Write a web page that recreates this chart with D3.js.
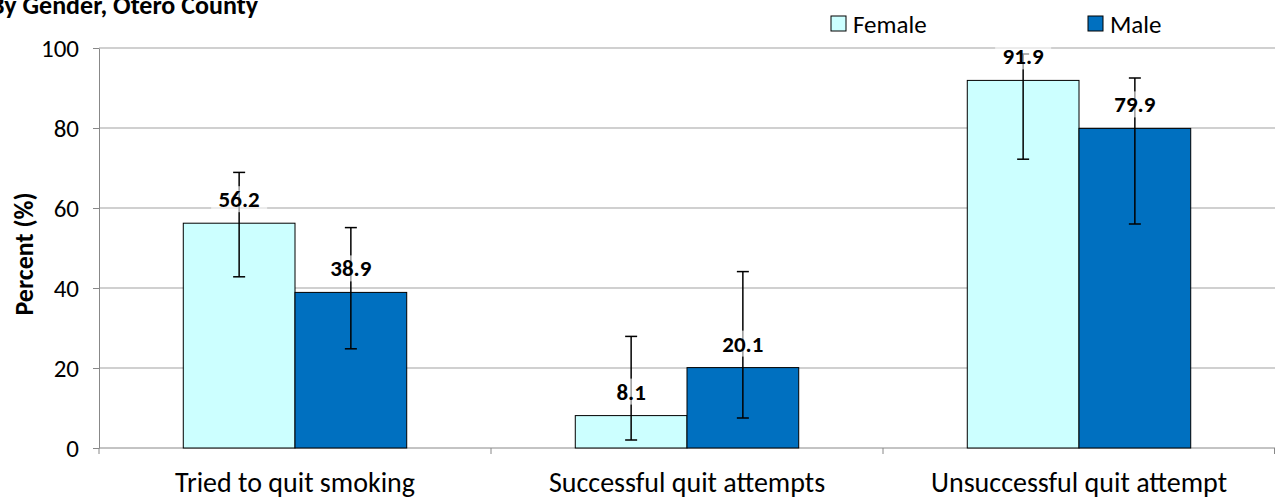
<!DOCTYPE html>
<html>
<head>
<meta charset="utf-8">
<script src="https://cdn.jsdelivr.net/npm/d3@7"></script>
<style>
  body { margin: 0; background: #fff; }
  svg { display: block; font-family: Carlito, Calibri, Lato, sans-serif; }
</style>
</head>
<body>
<div id="wrapper"></div>
<script>
// data
const categories = ["Tried to quit smoking", "Successful quit attempts", "Unsuccessful quit attempt"]
const seriesNames = ["Female", "Male"]
const femaleValues = [56.2, 8.1, 91.9]
const maleValues = [38.9, 20.1, 79.9]
const femaleLow = [42.8, 2.0, 72.2]
const femaleHigh = [68.9, 27.9, 98.5]
const maleLow = [24.8, 7.5, 56.0]
const maleHigh = [55.1, 44.1, 92.5]
const yTicks = [0, 20, 40, 60, 80, 100]
const colors = ["#ccffff", "#0070c0"]

const rows = []
categories.forEach((c, i) => {
  rows.push({ cat: c, series: "Female", value: femaleValues[i], low: femaleLow[i], high: femaleHigh[i] })
  rows.push({ cat: c, series: "Male", value: maleValues[i], low: maleLow[i], high: maleHigh[i] })
})

const dimensions = {
  width: 1275,
  height: 502,
  margin: { top: 48, right: 0, bottom: 54, left: 99 },
}
dimensions.boundedWidth = dimensions.width - dimensions.margin.left - dimensions.margin.right
dimensions.boundedHeight = dimensions.height - dimensions.margin.top - dimensions.margin.bottom

const wrapper = d3.select("#wrapper")
  .append("svg")
    .attr("width", dimensions.width)
    .attr("height", dimensions.height)

const bounds = wrapper.append("g")
    .attr("transform", `translate(${dimensions.margin.left},${dimensions.margin.top})`)

// scales
const xScale = d3.scaleBand()
  .domain(categories)
  .range([0, dimensions.boundedWidth])
  .paddingInner(0.43)
  .paddingOuter(0.215)

const xInner = d3.scaleBand()
  .domain(seriesNames)
  .range([0, xScale.bandwidth()])

const yScale = d3.scaleLinear()
  .domain([0, 100])
  .range([dimensions.boundedHeight, 0])

const colorScale = d3.scaleOrdinal().domain(seriesNames).range(colors)

// gridlines
bounds.append("g")
  .selectAll("line")
  .data(yTicks.filter(d => d > 0))
  .join("line")
    .attr("x1", 0)
    .attr("x2", dimensions.boundedWidth)
    .attr("y1", d => yScale(d))
    .attr("y2", d => yScale(d))
    .attr("stroke", "#c0c0c0")
    .attr("stroke-width", 1.3)

// y axis
const yAxis = bounds.append("g")
  .call(d3.axisLeft(yScale).tickValues(yTicks).tickSize(6).tickSizeOuter(0).tickPadding(14))
yAxis.select(".domain").attr("stroke", "#888")
yAxis.selectAll(".tick line").attr("stroke", "#888")
yAxis.selectAll("text").attr("font-size", 25).attr("fill", "#000")
  .attr("font-family", "Carlito, Calibri, Lato, sans-serif")

// x axis
const xAxis = bounds.append("g")
  .attr("transform", `translate(0,${dimensions.boundedHeight})`)
xAxis.append("line")
  .attr("x1", 0).attr("x2", dimensions.boundedWidth)
  .attr("stroke", "#888")
const tickEdges = categories.map(c => xScale(c) - xScale.step() * xScale.paddingInner() / 2)
tickEdges.push(dimensions.boundedWidth - 0.5)
xAxis.selectAll(".xtick")
  .data(tickEdges)
  .join("line")
    .attr("x1", d => d).attr("x2", d => d)
    .attr("y1", 0).attr("y2", 6)
    .attr("stroke", "#888")
xAxis.selectAll(".xlabel")
  .data(categories)
  .join("text")
    .attr("x", d => xScale(d) + xScale.bandwidth() / 2)
    .attr("y", 44)
    .attr("text-anchor", "middle")
    .attr("font-size", 28)
    .text(d => d)

// bars
const groups = bounds.selectAll(".bar")
  .data(rows)
  .join("g")
    .attr("transform", d => `translate(${xScale(d.cat) + xInner(d.series)},0)`)

groups.append("rect")
    .attr("x", 0)
    .attr("width", xInner.bandwidth())
    .attr("y", d => yScale(d.value))
    .attr("height", d => dimensions.boundedHeight - yScale(d.value))
    .attr("fill", d => colorScale(d.series))
    .attr("stroke", "#000")
    .attr("stroke-width", 1)

// error bars
const cx = xInner.bandwidth() / 2
groups.append("line")
    .attr("x1", cx).attr("x2", cx)
    .attr("y1", d => yScale(d.high))
    .attr("y2", d => yScale(d.low))
    .attr("stroke", "#000").attr("stroke-width", 1.5)
groups.selectAll(".cap")
  .data(d => [d.low, d.high])
  .join("line")
    .attr("x1", cx - 6).attr("x2", cx + 6)
    .attr("y1", d => yScale(d)).attr("y2", d => yScale(d))
    .attr("stroke", "#000").attr("stroke-width", 1.5)

// value labels
const labels = groups.append("g")
    .attr("transform", d => `translate(${cx},${yScale(d.value) - 24})`)
labels.append("rect")
    .attr("x", -28).attr("y", -13)
    .attr("width", 56).attr("height", 26)
    .attr("fill", "#fff").attr("opacity", 0.6)
labels.append("text")
    .attr("text-anchor", "middle")
    .attr("dy", "0.35em")
    .attr("font-size", 23)
    .attr("font-weight", "bold")
    .text(d => d.value.toFixed(1))

// y axis label
wrapper.append("text")
    .attr("transform", "translate(33,254) rotate(-90)")
    .attr("text-anchor", "middle")
    .attr("font-size", 26)
    .attr("font-weight", "bold")
    .text("Percent (%)")

// title (cut at the left edge, as in the original)
wrapper.append("text")
    .attr("x", -10)
    .attr("y", 14)
    .attr("font-size", 26)
    .attr("font-weight", "bold")
    .text("By Gender, Otero County")

// legend
const legendX = [831, 1088]
const legend = wrapper.selectAll(".legend")
  .data(seriesNames)
  .join("g")
    .attr("transform", (d, i) => `translate(${legendX[i]},16)`)
legend.append("rect")
    .attr("width", 15).attr("height", 15)
    .attr("fill", d => colorScale(d))
    .attr("stroke", "#000")
legend.append("text")
    .attr("x", 22).attr("y", 8)
    .attr("dy", "0.35em")
    .attr("font-size", 25)
    .text(d => d)
</script>
</body>
</html>
